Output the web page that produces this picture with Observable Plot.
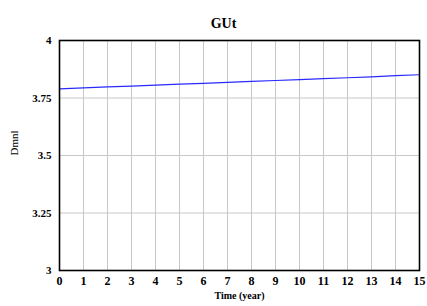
<!DOCTYPE html>
<html>
<head>
<meta charset="utf-8">
<script src="https://cdn.jsdelivr.net/npm/d3@7"></script>
<script src="https://cdn.jsdelivr.net/npm/@observablehq/plot@0.6"></script>
<style>
html,body{margin:0;padding:0;background:#fff;}
</style>
</head>
<body>
<div id="chart"></div>
<script>
const title = "GUt";
const xLabel = "Time (year)";
const yLabel = "Dmnl";
const years = [0,1,2,3,4,5,6,7,8,9,10,11,12,13,14,15];
const gut = [3.790,3.794,3.798,3.802,3.806,3.810,3.814,3.818,3.822,3.826,3.830,3.834,3.838,3.842,3.847,3.851];
const xTicks = [0,1,2,3,4,5,6,7,8,9,10,11,12,13,14,15];
const yTicks = [3,3.25,3.5,3.75,4];
const yTickLabels = ["3","3.25","3.5","3.75","4"];

const data = years.map((t,i)=>({t, v: gut[i]}));

const chart = Plot.plot({
  width: 427,
  height: 306,
  marginTop: 40,
  marginLeft: 59,
  marginRight: 8,
  marginBottom: 36,
  style: {fontFamily: "'Liberation Serif', serif", background: "#fff", color: "#000"},
  x: {domain: [0,15], ticks: xTicks, tickSize: 0, tickPadding: 6, label: null},
  y: {domain: [3,4], ticks: yTicks, tickSize: 0, tickPadding: 8, label: null},
  marks: [
    Plot.gridX(xTicks, {stroke: "#c8c8c8", strokeOpacity: 1}),
    Plot.gridY(yTicks, {stroke: "#c8c8c8", strokeOpacity: 1}),
    Plot.axisX({ticks: xTicks, tickSize: 0, tickPadding: 6, fontWeight: "bold", fontSize: 12}),
    Plot.axisY({ticks: yTicks, tickSize: 0, tickPadding: 8, fontWeight: "bold", fontSize: 11,
      tickFormat: (d)=> yTickLabels[yTicks.indexOf(d)], label: null}),
    Plot.line(data, {x: "t", y: "v", stroke: "#2a2aff", strokeWidth: 1.2}),
    Plot.frame({stroke: "#000", strokeWidth: 1.6}),
    Plot.text([title], {frameAnchor: "top", dy: -22, dx: -16, fontSize: 14, fontWeight: "bold", text: d=>d}),
    Plot.text([xLabel], {frameAnchor: "bottom", dy: 28, fontSize: 10, fontWeight: "bold", text: d=>d}),
    Plot.text([yLabel], {frameAnchor: "left", dx: -45, rotate: -90, fontSize: 11, text: d=>d})
  ]
});
document.getElementById("chart").appendChild(chart);
</script>
</body>
</html>
